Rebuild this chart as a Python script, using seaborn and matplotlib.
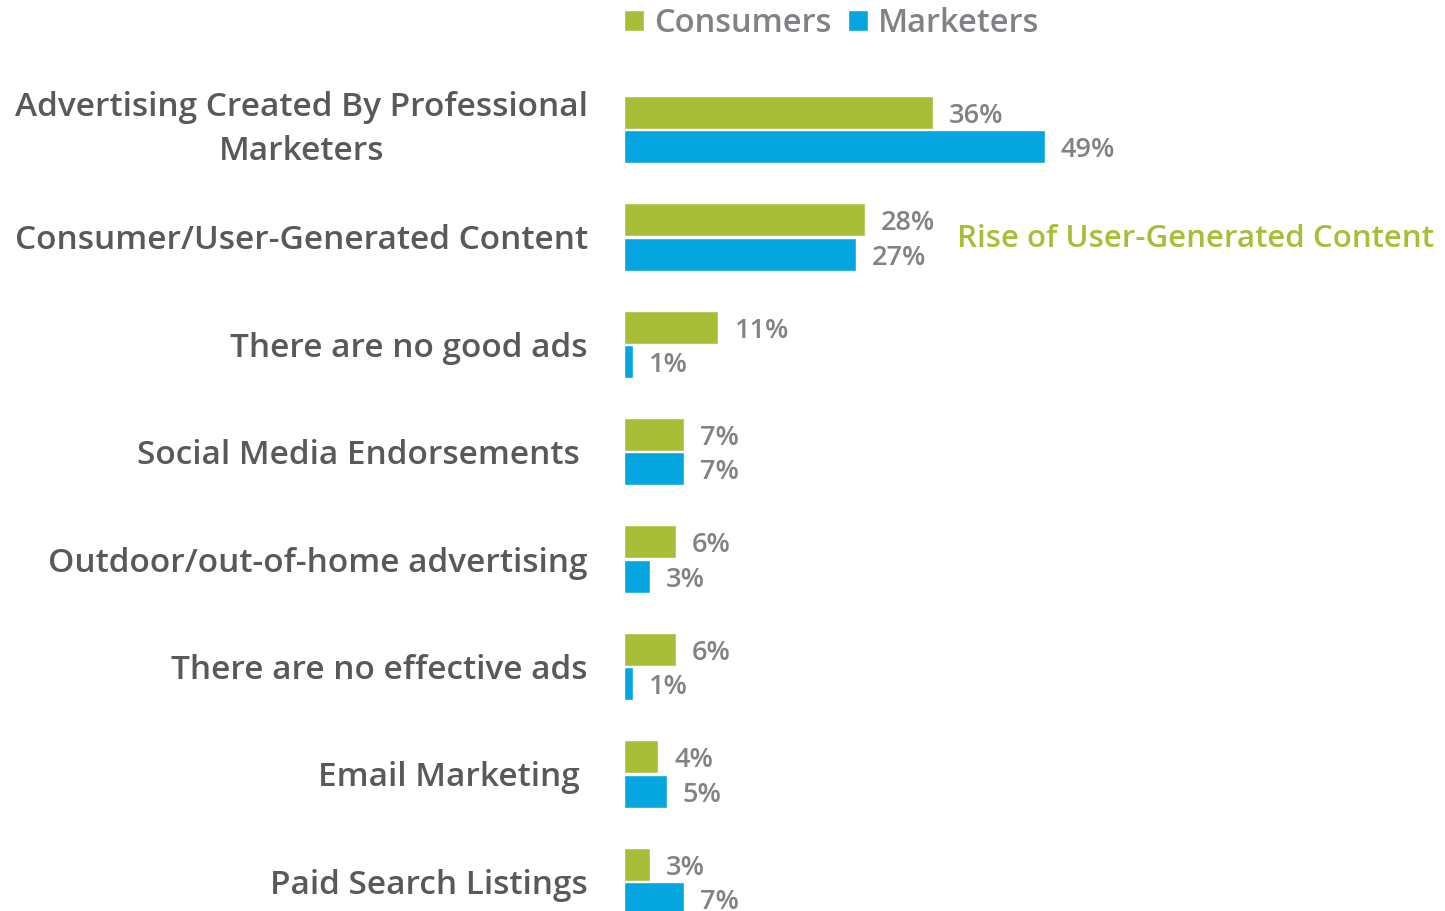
import matplotlib
matplotlib.use("Agg")
import matplotlib.pyplot as plt
import pandas as pd
import seaborn as sns

# Survey answers: which ads are most effective
categories = [
    "Advertising Created By Professional\nMarketers",
    "Consumer/User-Generated Content",
    "There are no good ads",
    "Social Media Endorsements ",
    "Outdoor/out-of-home advertising",
    "There are no effective ads",
    "Email Marketing ",
    "Paid Search Listings",
]
consumers = [36, 28, 11, 7, 6, 6, 4, 3]
marketers = [49, 27, 1, 7, 3, 1, 5, 7]
groups = ["Consumers", "Marketers"]

GREEN = "#A9BE38"
BLUE = "#05A6DF"
LABEL_GRAY = "#58595B"
VALUE_GRAY = "#808285"

df = pd.DataFrame({
    "category": categories * 2,
    "group": [groups[0]] * len(categories) + [groups[1]] * len(categories),
    "value": consumers + marketers,
})

sns.set_theme(style="white")
plt.rcParams["font.family"] = ["Open Sans", "DejaVu Sans"]
plt.rcParams["font.weight"] = "semibold"

fig = plt.figure(figsize=(14.45, 9.11), dpi=100)
ax = fig.add_axes([624 / 1445, 0, (1440 - 624) / 1445, 1])

sns.barplot(
    data=df, y="category", x="value", hue="group", orient="h",
    palette=[GREEN, BLUE], saturation=1, width=0.64, gap=0.04,
    edgecolor="white", linewidth=1, ax=ax,
)

for cont in ax.containers:
    labels = ax.bar_label(cont, fmt="%d%%", padding=11.5, fontsize=19.5,
                          color=VALUE_GRAY, fontweight="semibold")
    for t in labels:
        t.set_va("center_baseline")

ax.set_xlim(0, 95)
ax.set_ylim(7.277, -1.206)
ax.set_xlabel("")
ax.set_ylabel("")
ax.set_xticks([])
sns.despine(ax=ax, left=True, bottom=True)
ax.tick_params(axis="y", length=0, pad=26, labelsize=24, labelcolor=LABEL_GRAY)
for lbl in ax.get_yticklabels():
    lbl.set_fontweight("semibold")
    lbl.set_multialignment("center")
    lbl.set_linespacing(1.45)
    if "\n" in lbl.get_text():
        lbl.set_va("center")

sns.move_legend(
    ax, "upper left", bbox_to_anchor=(0.0, 0.992), ncol=2, frameon=False,
    title=None, fontsize=23.5, handlelength=0.62, handleheight=0.62,
    handletextpad=0.3, columnspacing=0.5, borderpad=0.0, borderaxespad=0.0,
)
for t in ax.get_legend().get_texts():
    t.set_color(VALUE_GRAY)
    t.set_fontweight("semibold")

ax.text(38.8, 1.02, "Rise of User-Generated Content", color=GREEN,
        fontsize=22.5, fontweight="semibold", va="center", ha="left")

fig.savefig("out.png", dpi=100)
